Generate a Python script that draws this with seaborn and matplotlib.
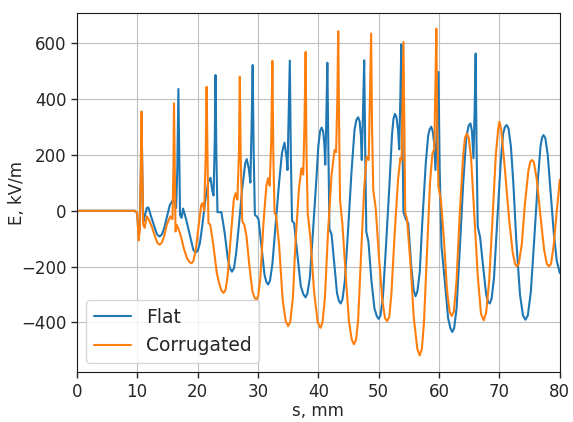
"""
Electric field E along s for a flat and a corrugated structure.
"""

import pandas as pd
import matplotlib
matplotlib.use("Agg")
import matplotlib.pyplot as plt
import seaborn as sns

# values as (s in mm, E in kV/m)
flat_points = [
    (0, 0), (9.6, 0), (10.0, -8), (10.25, -90), (10.45, -60), (10.62, 150), (10.72, 355),
    (10.85, 150), (11.0, -40), (11.25, -20), (11.6, 10), (11.85, 12), (12.3, -20), (12.9, -60),
    (13.3, -85), (13.7, -92), (14.1, -85), (14.5, -60), (14.9, -25), (15.4, 20), (15.9, 38),
    (16.2, 30), (16.45, 10), (16.65, 150), (16.83, 436), (16.97, 200), (17.1, -15), (17.35, -25),
    (17.6, 8), (18.1, -30), (18.8, -95), (19.3, -140), (19.7, -150), (20.05, -142), (20.4, -115),
    (20.8, -50), (21.3, 40), (21.8, 105), (22.15, 118), (22.45, 70), (22.65, 55), (22.85, 250),
    (22.98, 486), (23.12, 200), (23.3, -5), (23.65, -5), (23.95, -5), (24.5, -80), (25.0, -170),
    (25.35, -205), (25.7, -218), (26.05, -205), (26.4, -150), (26.9, -40), (27.4, 80), (27.9, 170),
    (28.15, 185), (28.5, 150), (28.75, 101), (28.95, 300), (29.13, 522), (29.3, 200), (29.5, -15),
    (29.8, -20), (30.1, -30), (30.7, -150), (31.1, -230), (31.4, -255), (31.7, -264), (32.0, -250),
    (32.4, -190), (32.9, -60), (33.5, 100), (34.0, 210), (34.4, 244), (34.75, 190), (34.9, 146),
    (35.1, 350), (35.28, 538), (35.45, 200), (35.65, -35), (36.0, -45), (36.5, -150), (37.1, -270),
    (37.55, -300), (37.9, -310), (38.2, -295), (38.6, -240), (39.1, -80), (39.7, 120), (40.0, 230),
    (40.3, 285), (40.55, 298), (40.8, 285), (41.0, 240), (41.15, 165), (41.3, 300), (41.5, 530),
    (41.68, 200), (41.85, -65), (42.2, -85), (42.7, -200), (43.1, -295), (43.4, -322), (43.7, -332),
    (44.0, -318), (44.4, -250), (44.9, -80), (45.5, 140), (46.0, 290), (46.3, 325), (46.6, 335),
    (46.85, 320), (47.05, 270), (47.2, 182), (47.4, 350), (47.6, 539), (47.78, 200), (47.95, -75),
    (48.3, -110), (48.8, -250), (49.3, -350), (49.7, -378), (50.0, -387), (50.3, -375), (50.7, -310),
    (51.2, -130), (51.8, 100), (52.2, 270), (52.45, 330), (52.7, 347), (52.95, 335), (53.2, 290),
    (53.4, 220), (53.58, 400), (53.75, 596), (53.92, 300), (54.1, -5), (54.5, -30), (54.9, -45),
    (55.4, -200), (55.8, -285), (56.1, -306), (56.4, -290), (56.8, -220), (57.2, -50), (57.8, 170),
    (58.2, 270), (58.45, 292), (58.7, 301), (58.95, 285), (59.2, 240), (59.4, 146), (59.65, 300),
    (59.9, 497), (60.1, 150), (60.4, -127), (60.9, -240), (61.5, -385), (61.9, -422), (62.2, -434),
    (62.5, -420), (62.9, -350), (63.4, -150), (64.0, 100), (64.5, 260), (64.9, 305), (65.2, 313),
    (65.45, 285), (65.7, 188), (65.88, 350), (66.06, 563), (66.2, 250), (66.4, -56), (66.8, -95),
    (67.3, -200), (67.8, -300), (68.1, -325), (68.4, -332), (68.7, -315), (69.1, -240), (69.6, -50),
    (70.2, 170), (70.6, 275), (70.9, 300), (71.2, 307), (71.5, 295), (71.9, 230), (72.3, 100),
    (72.8, -110), (73.4, -300), (73.9, -375), (74.3, -390), (74.7, -375), (75.2, -290), (75.8, -90),
    (76.4, 120), (76.8, 230), (77.05, 262), (77.3, 271), (77.6, 260), (78.0, 200), (78.5, 60),
    (79.0, -80), (79.5, -180), (80.0, -223),
]

corrugated_points = [
    (0, 0), (9.6, 0), (10.0, -8), (10.25, -106), (10.45, -60), (10.6, 150), (10.7, 355),
    (10.85, 150), (11.0, -50), (11.25, -61), (11.6, -20), (11.9, -30), (12.4, -55), (13.0, -95),
    (13.35, -115), (13.7, -121), (14.05, -115), (14.5, -90), (14.9, -50), (15.5, -20), (15.85, -30),
    (16.0, 150), (16.1, 385), (16.22, 150), (16.35, -74), (16.55, -50), (16.75, -60), (17.1, -80),
    (17.8, -140), (18.3, -172), (18.7, -184), (19.0, -188), (19.3, -180), (19.7, -140), (20.2, -50),
    (20.6, 20), (20.85, 27), (21.1, 0), (21.35, 200), (21.5, 444), (21.65, 200), (21.8, -43),
    (22.1, -50), (22.6, -120), (23.2, -225), (23.65, -265), (23.95, -285), (24.3, -294),
    (24.65, -283), (25.0, -230), (25.6, -70), (26.0, 40), (26.3, 63), (26.6, 40), (26.85, 200),
    (27.0, 480), (27.15, 200), (27.4, -38), (27.75, -50), (28.1, -90), (28.6, -200), (29.1, -290),
    (29.45, -312), (29.75, -318), (30.05, -305), (30.4, -240), (30.9, -50), (31.4, 90), (31.7, 117),
    (31.95, 90), (32.2, 250), (32.4, 537), (32.55, 200), (32.75, -8), (33.0, -15), (33.5, -120),
    (34.1, -320), (34.6, -395), (35.0, -413), (35.35, -398), (35.8, -310), (36.2, -120), (36.8, 80),
    (37.2, 152), (37.5, 130), (37.7, 300), (37.9, 569), (38.05, 200), (38.25, -8), (38.7, -100),
    (39.3, -290), (39.9, -400), (40.35, -419), (40.7, -400), (41.1, -310), (41.6, -80), (42.2, 130),
    (42.7, 218), (42.95, 210), (43.15, 400), (43.3, 643), (43.45, 300), (43.6, 39), (44.0, -50),
    (44.6, -250), (45.1, -400), (45.55, -462), (45.9, -478), (46.25, -462), (46.6, -390),
    (47.1, -150), (47.6, 80), (48.0, 194), (48.35, 182), (48.55, 400), (48.75, 635), (48.9, 300),
    (49.1, 75), (49.5, 10), (50.1, -180), (50.6, -320), (51.05, -385), (51.4, -395), (51.75, -380),
    (52.1, -300), (52.6, -100), (53.2, 110), (53.6, 190), (53.8, 180), (53.95, 400), (54.1, 605),
    (54.25, 300), (54.4, -8), (54.7, -30), (55.3, -200), (55.8, -380), (56.4, -495), (56.8, -518),
    (57.15, -495), (57.5, -400), (58.0, -150), (58.5, 100), (58.9, 206), (59.2, 220), (59.4, 450),
    (59.55, 652), (59.7, 300), (59.9, 87), (60.3, 39), (60.8, -100), (61.3, -280), (61.75, -362),
    (62.1, -377), (62.45, -360), (62.9, -250), (63.4, -20), (64.0, 200), (64.3, 262), (64.6, 277),
    (64.9, 262), (65.3, 190), (65.8, 0), (66.4, -230), (66.95, -370), (67.4, -392), (67.8, -365),
    (68.3, -250), (68.8, -50), (69.4, 200), (69.8, 295), (70.0, 319), (70.3, 290), (70.9, 150),
    (71.6, -30), (72.2, -150), (72.6, -192), (72.9, -199), (73.2, -190), (73.7, -120), (74.2, 20),
    (74.8, 145), (75.1, 175), (75.4, 182), (75.7, 174), (76.2, 110), (76.8, -20), (77.4, -140),
    (77.85, -190), (78.2, -199), (78.55, -190), (79.0, -120), (79.5, 0), (80.0, 111),
]

series_names = ["Flat", "Corrugated"]
colors = ["#1f77b4", "#ff7f0e"]
y_ticks = [-400, -200, 0, 200, 400, 600]

sns.set_style("whitegrid", {"axes.edgecolor": "0.1", "grid.color": "0.75",
                            "xtick.bottom": True, "ytick.left": True})
plt.rcParams["font.family"] = ["DejaVu Sans"]

frames = []
for name, pts in zip(series_names, [flat_points, corrugated_points]):
    part = pd.DataFrame(pts, columns=["s", "E"])
    part["series"] = name
    frames.append(part)
df = pd.concat(frames, ignore_index=True)

fig, ax = plt.subplots(figsize=(5.73, 4.22), dpi=100)
fig.subplots_adjust(left=0.134, right=0.977, top=0.969, bottom=0.118)

sns.lineplot(data=df, x="s", y="E", hue="series", palette=colors,
             estimator=None, sort=False, linewidth=1.5, ax=ax)

ax.set_xlim(0, 80)
ax.set_ylim(-578, 708)
ax.set_yticks(y_ticks)
ax.set_xlabel("s, mm", fontsize=12, labelpad=1)
ax.set_ylabel("E, kV/m", fontsize=12)
ax.yaxis.set_label_coords(-0.106, 0.5)
ax.tick_params(labelsize=12, length=4, width=1)
ax.legend(loc="lower left", fontsize=13.5, title=None)

plt.savefig("out.png", dpi=100)
